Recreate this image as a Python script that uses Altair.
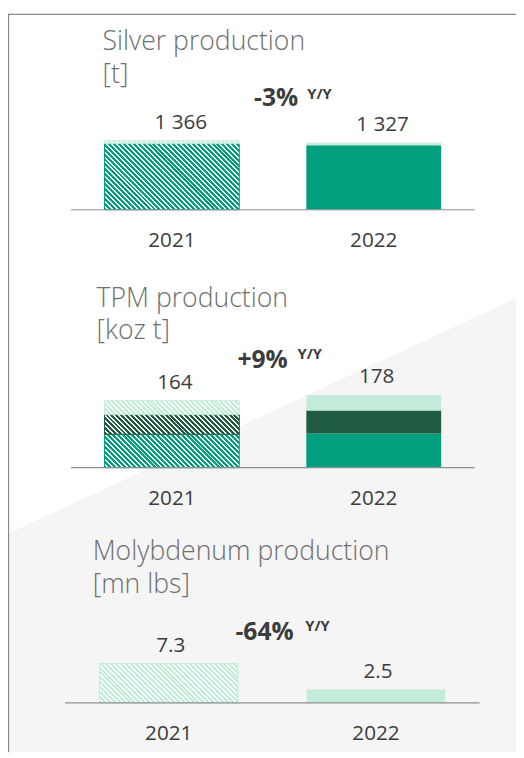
import altair as alt
import pandas as pd

# ---------------- data ----------------
years = ["2021", "2022"]

# Silver production [t]: main part + small light cap
silver_main = [1311, 1277]
silver_other = [55, 50]

# TPM production [koz t]: three stacked components
tpm_base = [82, 84]
tpm_mid = [48, 56]
tpm_top = [34, 38]

# Molybdenum production [mn lbs]
moly_values = [7.3, 2.5]

titles = ["Silver production", "TPM production", "Molybdenum production"]
units = ["[t]", "[koz t]", "[mn lbs]"]
changes = ["-3%", "+9%", "-64%"]
change_suffix = "Y/Y"

# ---------------- style ----------------
GREEN = "#00a07f"
DARK = "#1e5b40"
LIGHT = "#c4ecda"
TEXT = "#3c3c3c"
TITLE = "#6f6f6f"
AXIS = "#8f8f8f"
BORDER = "#8a8a8a"
BG2 = "#f5f5f5"
FONT = "Open Sans"

W, H = 516, 750
PI, PO = 0.332, 0.166


def hatch(color, w, h, period=5, on=3, length=256):
    """Diagonal stripe fill (45 deg) as a hard-stop linear gradient."""
    d = w * w + h * h
    stops = []
    k = 0
    while k * period < length:
        a = round(k * period / length, 6)
        b = round(min((k * period + on) / length, 1), 6)
        c = round(min((k + 1) * period / length, 1), 6)
        stops += [
            {"offset": a, "color": color},
            {"offset": b, "color": color},
            {"offset": b, "color": "#ffffff"},
            {"offset": c, "color": "#ffffff"},
        ]
        k += 1
    return {"gradient": "linear", "x1": 0, "y1": 1,
            "x2": round(w * length / d, 6), "y2": round(1 - h * length / d, 6),
            "stops": stops}


def edge_gradient(p, q, w, h, c_above, c_below):
    u1, v1 = p[0] / w, p[1] / h
    u2, v2 = q[0] / w, q[1] / h
    dx, dy = u2 - u1, v2 - v1
    gx, gy = -dy, dx
    if gy < 0:
        gx, gy = -gx, -gy
    n2 = gx * gx + gy * gy
    s = round((u1 * gx + v1 * gy) / n2, 5)
    return {"gradient": "linear", "x1": 0, "y1": 0, "x2": gx, "y2": gy,
            "stops": [{"offset": 0, "color": c_above}, {"offset": s, "color": c_above},
                      {"offset": s, "color": c_below}, {"offset": 1, "color": c_below}]}


one = pd.DataFrame({"k": [0]})

panels = [
    dict(series=[("main", silver_main, GREEN), ("other", silver_other, LIGHT)],
         fmt=lambda v: f"{v:,.0f}".replace(",", " "),
         x0=64, x1=474, base=199, ppu=70 / 1366,
         title=(96, 37), change=(250, 93.5), yy=(304, 87), dx=9),
    dict(series=[("base", tpm_base, GREEN), ("mid", tpm_mid, DARK), ("top", tpm_top, LIGHT)],
         fmt=lambda v: f"{v:.0f}",
         x0=64, x1=474, base=461, ppu=68 / 164,
         title=(90, 297.5), change=(233, 359.5), yy=(294, 350.5), dx=3),
    dict(series=[("moly", moly_values, LIGHT)],
         fmt=lambda v: f"{v:.1f}",
         x0=58, x1=479, base=700, ppu=40 / 7.3,
         title=(86, 555), change=(231, 636), yy=(302, 627), dx=2),
]

panel_charts = []
for i, p in enumerate(panels):
    rows = []
    for order, (comp, vals, color) in enumerate(p["series"]):
        for yr, v in zip(years, vals):
            rows.append(dict(year=yr, comp=comp, order=order, value=v, color=color))
    df = pd.DataFrame(rows)
    tot = df.groupby("year", as_index=False)["value"].sum()
    tot["label"] = tot["value"].map(p["fmt"])

    ymax = float(tot["value"].max())
    yscale = alt.Scale(domain=[0, ymax], range=[p["base"], p["base"] - ymax * p["ppu"]],
                       nice=False, zero=True)
    xscale = alt.Scale(domain=years, range=[p["x0"], p["x1"]],
                       paddingInner=PI, paddingOuter=PO)
    X = alt.X("year:N", scale=xscale, axis=None)
    Y = alt.Y("v1:Q", scale=yscale, axis=None)

    step = (p["x1"] - p["x0"]) / (len(years) - PI + 2 * PO)
    bw = step * (1 - PI)

    stacked = alt.Chart(df).transform_stack(
        stack="value", as_=["v0", "v1"], groupby=["year"],
        sort=[alt.SortField("order", order="ascending")])

    solid = stacked.transform_filter(alt.datum.year == years[1]).mark_bar().encode(
        x=X, y=Y, y2="v0:Q", color=alt.Color("color:N", scale=None))

    hatched = []
    for comp, vals, color in p["series"]:
        hh = vals[0] * p["ppu"]
        hatched.append(
            stacked.transform_filter((alt.datum.year == years[0]) & (alt.datum.comp == comp))
            .mark_bar(fill=hatch(color, bw, hh), stroke=color, strokeWidth=1)
            .encode(x=X, y=Y, y2="v0:Q"))

    vlab = alt.Chart(tot).mark_text(
        font=FONT, fontSize=21, color=TEXT, baseline="alphabetic", dy=-12, dx=p["dx"]
    ).encode(x=X, y=alt.Y("value:Q", scale=yscale, axis=None), text="label:N")

    ylab = alt.Chart(tot).mark_text(
        font=FONT, fontSize=21, color=TEXT, baseline="alphabetic", dy=38
    ).encode(x=X, y=alt.YDatum(0, type="quantitative", scale=yscale, axis=None), text="year:N")

    rule = alt.Chart(one).mark_rule(color=AXIS, strokeWidth=1.2).encode(
        x=alt.value(p["x0"]), x2=alt.value(p["x1"]),
        y=alt.YDatum(0, type="quantitative", scale=yscale, axis=None))

    title = alt.Chart(one).mark_text(
        text=[titles[i], units[i]], lineHeight=33, align="left", baseline="alphabetic",
        font=FONT, fontSize=27, fontWeight=300, color=TITLE
    ).encode(x=alt.value(p["title"][0]), y=alt.value(p["title"][1]))

    chg = alt.Chart(one).mark_text(
        text=changes[i], align="left", baseline="alphabetic",
        font=FONT, fontSize=25, fontWeight="bold", color=TEXT
    ).encode(x=alt.value(p["change"][0]), y=alt.value(p["change"][1]))

    yy = alt.Chart(one).mark_text(
        text=change_suffix, align="left", baseline="alphabetic",
        font=FONT, fontSize=15, fontWeight="bold", color=TEXT
    ).encode(x=alt.value(p["yy"][0]), y=alt.value(p["yy"][1]))

    panel_charts.append(alt.layer(solid, *hatched, rule, vlab, ylab, title, chg, yy))

bg = alt.Chart(one).mark_rect(
    fill=edge_gradient((39, 510), (516, 289), W, H, "#ffffff", BG2)
).encode(x=alt.value(0), x2=alt.value(W), y=alt.value(0), y2=alt.value(H))

border_left = alt.Chart(one).mark_rule(color=BORDER, strokeWidth=1.2).encode(
    x=alt.value(0.6), y=alt.value(0), y2=alt.value(H))
border_top = alt.Chart(one).mark_rule(color=BORDER, strokeWidth=1.2).encode(
    y=alt.value(0.6), x=alt.value(0), x2=alt.value(W))

chart = alt.layer(bg, border_left, border_top, *panel_charts).resolve_scale(
    x="independent", y="independent"
).properties(
    width=W, height=H, padding=0,
    autosize=alt.AutoSizeParams(type="none"), background="white"
).configure_view(stroke=None)

chart.save("out.html", embed_options={"renderer": "svg", "actions": False})
